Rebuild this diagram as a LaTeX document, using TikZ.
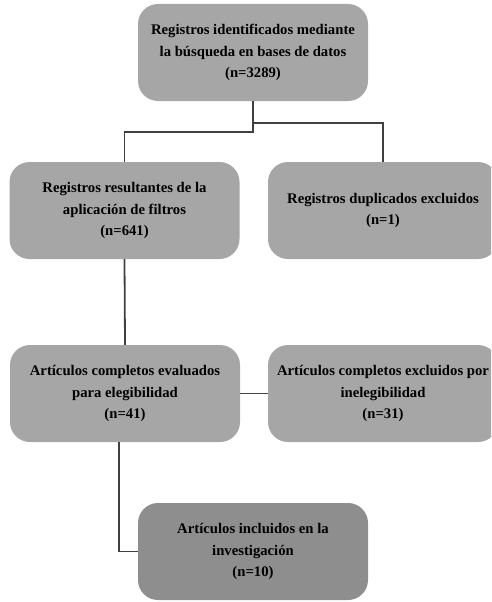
\documentclass[tikz,border=0pt]{standalone}
\usepackage{fontspec}
\setmainfont{Liberation Serif}
\definecolor{boxgray}{HTML}{A6A6A6}
\definecolor{darkbox}{HTML}{8E8E8E}
\definecolor{linegray}{HTML}{404040}
\begin{document}
\begin{tikzpicture}[x=1pt,y=-1pt,
  box/.style={rectangle, rounded corners=20pt, fill=boxgray, minimum width=230pt,
    minimum height=97pt, align=center, inner sep=0pt,
    font=\bfseries\fontsize{14.7}{21.5}\selectfont},
  conn/.style={draw=linegray, line width=1.8pt}]
\useasboundingbox (0,0) rectangle (491,602);
\clip (0,0) rectangle (491,602);
\node[box] (top) at (253,52.5) {Registros identificados mediante\\la búsqueda en bases de datos\\(n=3289)};
\node[box] (filt) at (124.5,210.5) {Registros resultantes de la\\aplicación de filtros\\(n=641)};
\node[box] (dup) at (383,210.5) {Registros duplicados excluidos\\(n=1)};
\node[box] (eval) at (125,393.5) {Artículos completos evaluados\\para elegibilidad\\(n=41)};
\node[box] (excl) at (383,393.5) {Artículos completos excluidos por\\inelegibilidad\\(n=31)};
\node[box, fill=darkbox] (incl) at (253,551.5) {Artículos incluidos en la\\investigación\\(n=10)};
\draw[conn] (top.south) -- ([yshift=-31pt]top.south) -| (filt.north);
\draw[conn] ([yshift=-22pt]top.south) -| (dup.north);
\draw[conn] (filt.south) -- (eval.north);
\draw[conn] (eval.east) -- (excl.west);
\draw[conn] ([xshift=-6pt]eval.south) |- (incl.west);
\end{tikzpicture}
\end{document}
